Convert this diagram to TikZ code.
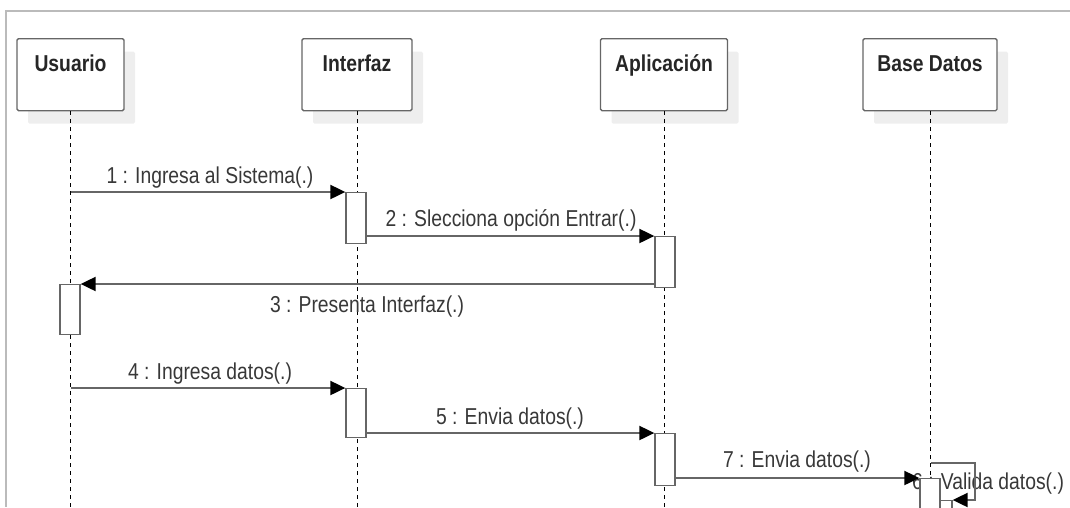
\documentclass[tikz,border=0pt]{standalone}
\usepackage{fontspec}
\setmainfont{Liberation Sans}[FakeStretch=0.84]
\usetikzlibrary{arrows.meta,shadows}
\definecolor{linegray}{HTML}{666666}
\definecolor{textgray}{HTML}{383838}
\definecolor{framegray}{HTML}{BBBBBB}
\definecolor{shadowgray}{HTML}{EEEEEE}
\tikzset{
  head/.style={draw=linegray, line width=1.3pt, rounded corners=1.5pt, fill=white,
    anchor=north, inner ysep=0pt, text height=33pt, text depth=39pt,
    font=\fontsize{23}{26}\selectfont\bfseries, text=black!85,
    drop shadow={shadow xshift=11pt, shadow yshift=-13pt, fill=shadowgray, opacity=1}},
  act/.style={draw=linegray, line width=1.3pt, fill=white, anchor=north,
    minimum width=20pt, inner sep=0pt},
  life/.style={line width=1pt, black, dash pattern=on 4pt off 4pt},
  call/.style={line width=2pt, linegray, -{Triangle[length=15pt,width=14pt,black]}},
  msg/.style={font=\fontsize{23}{26}\selectfont, text=textgray}
}
\begin{document}
\begin{tikzpicture}[x=1pt,y=-1pt]
    \useasboundingbox (0,0) rectangle (1070,507);
    \draw[framegray, line width=1.5pt] (1070,11) -- (6,11) -- (6,507);

    \node[head, minimum width=107pt] (usuario) at (70.5,38) {Usuario};
    \node[head, minimum width=110pt] (interfaz) at (357,38) {Interfaz};
    \node[head, minimum width=127pt] (aplicacion) at (664,38) {Aplicación};
    \node[head, minimum width=134pt] (basedatos) at (930,38) {Base Datos};

    \coordinate (usuario end) at (70.5,507);
    \coordinate (interfaz end) at (357,507);
    \coordinate (aplicacion end) at (664,507);
    \coordinate (basedatos end) at (930,507);
    \draw[life] (usuario) -- (usuario end);
    \draw[life] (interfaz) -- (interfaz end);
    \draw[life] (aplicacion) -- (aplicacion end);
    \draw[life] (basedatos) -- (basedatos end);

    \node[msg] (l1) at (210,178) {1 : Ingresa al Sistema(.)};
    \node[msg] (l2) at (511,220) {2 : Slecciona opción Entrar(.)};
    \node[msg] (l3) at (367,307) {3 : Presenta Interfaz(.)};
    \node[msg] (l4) at (210,374) {4 : Ingresa datos(.)};
    \node[msg] (l5) at (510,419) {5 : Envia datos(.)};
    \node[msg] (l7) at (797,462) {7 : Envia datos(.)};
    \node[msg, anchor=west, inner xsep=0pt] (l6) at (912,484) {6 : Valida datos(.)};

    \node[act, minimum height=51pt] (a1) at (356,192) {};
    \node[act, minimum height=51pt] (a2) at (665,236) {};
    \node[act, minimum height=50pt] (a3) at (70,284) {};
    \node[act, minimum height=49pt] (a4) at (356,388) {};
    \node[act, minimum height=52pt] (a5) at (665,433) {};
    \node[act, minimum height=30pt] (a7) at (942,500) {};
    \node[act, minimum height=40pt] (a6) at (930,478) {};

    \draw[call] (usuario |- a1.north) -- (a1.north west);
    \draw[call] (a1.east |- a2.north) -- (a2.north west);
    \draw[call] (a2.west |- a3.north) -- (a3.north east);
    \draw[call] (usuario |- a4.north) -- (a4.north west);
    \draw[call] (a4.east |- a5.north) -- (a5.north west);
    \draw[call] (a5.east |- a6.north) -- (a6.north west);

    \coordinate (loop top) at (931,463);
    \coordinate (loop corner) at (975,500);
    \draw[call] (loop top) -| (loop corner) -- (a7.north east);

\end{tikzpicture}
\end{document}
